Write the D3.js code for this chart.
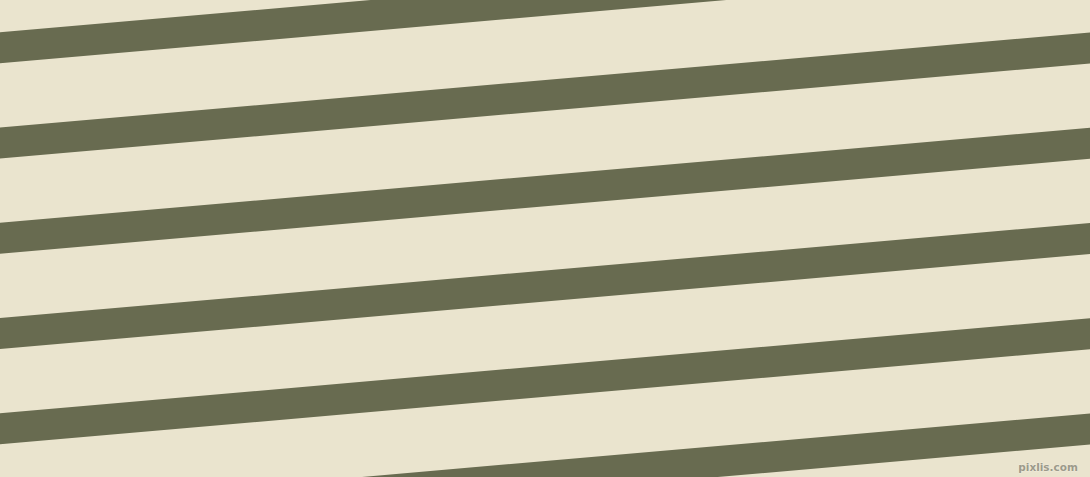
<!DOCTYPE html>
<html>
<head>
    <title>Stripes</title>
    <script src="https://d3js.org/d3.v7.min.js"></script>
    <style>
        body { margin: 0; overflow: hidden; background: #eae4ce; }
        .mark { font-family: 'DejaVu Sans', sans-serif; font-size: 10.5px; font-weight: bold; }
    </style>
</head>
<body>
<div id="chart"></div>
<script>
    // stripe numbers, counted from the one that starts near the top-left corner
    const stripeIds = [-1, 0, 1, 2, 3, 4, 5];
    // left-edge tops of stripe 0 and stripe 4
    const stripeDomain = [0, 4];
    const stripeLeftTops = [32.3, 413.3];
    const colors = ['#eae4ce', '#686b50'];

    const width = 1090;
    const height = 477;
    const rise = 95;      // how far a stripe climbs from left edge to right edge
    const thick = 31;     // vertical thickness of a stripe

    const y = d3.scaleLinear().domain(stripeDomain).range(stripeLeftTops);

    const svg = d3.select('#chart')
        .append('svg')
        .attr('width', width)
        .attr('height', height);

    svg.append('rect')
        .attr('width', width)
        .attr('height', height)
        .attr('fill', colors[0]);

    svg.selectAll('path.stripe')
        .data(stripeIds)
        .enter()
        .append('path')
        .attr('class', 'stripe')
        .attr('fill', colors[1])
        .attr('d', d => {
            const t = y(d);
            return d3.line()([
                [0, t], [width, t - rise],
                [width, t - rise + thick], [0, t + thick]
            ]) + 'Z';
        });

    // little watermark in the corner
    svg.append('text')
        .attr('class', 'mark')
        .attr('x', 1078)
        .attr('y', 471)
        .attr('text-anchor', 'end')
        .attr('fill', '#9c9a8a')
        .attr('stroke', '#f6f3ea')
        .attr('stroke-width', 0.5)
        .attr('paint-order', 'stroke')
        .text('pixlis.com');
</script>
</body>
</html>
